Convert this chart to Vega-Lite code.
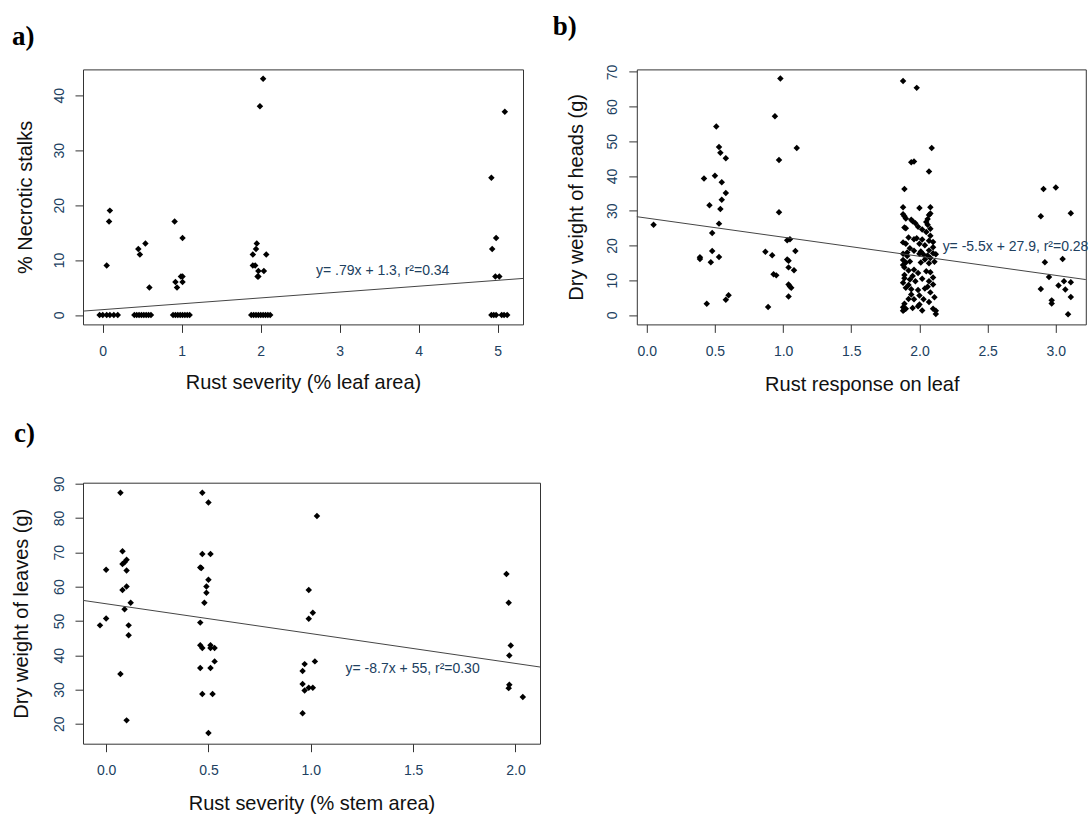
{
  "$schema": "https://vega.github.io/schema/vega-lite/v6.json",
  "autosize": {"type": "pad"},
  "padding": {"left": 10, "top": 12.4, "right": 0, "bottom": 0},
  "background": "white",
  "config": {
    "view": {"stroke": "#333", "strokeWidth": 1},
    "axis": {"grid": false, "domain": false, "tickColor": "#333", "tickSize": 8, "labelFont": "Liberation Sans", "labelFontSize": 14, "labelColor": "#204060", "labelPadding": 12, "labelFlush": false, "labelOverlap": false, "titleFont": "Liberation Sans", "titleFontSize": 20, "titleFontWeight": "normal", "titleColor": "#111"},
    "axisY": {"labelAngle": -90, "labelAlign": "center", "labelBaseline": "alphabetic", "titleAngle": -90, "titleAlign": "center", "titleBaseline": "middle"},
    "axisX": {"titleAlign": "center", "titleBaseline": "middle"},
    "title": {"font": "Liberation Serif", "fontSize": 27, "fontWeight": "bold", "color": "#000", "anchor": "start", "frame": "group", "baseline": "alphabetic"}
  },
  "datasets": {
    "a": [
      {"x": -0.04, "y": 0}, {"x": 0.0, "y": 0}, {"x": 0.05, "y": 0}, {"x": 0.09, "y": 0}, {"x": 0.14, "y": 0}, {"x": 0.19, "y": 0},
      {"x": 0.05, "y": 9}, {"x": 0.08, "y": 17}, {"x": 0.09, "y": 19},
      {"x": 0.40, "y": 0}, {"x": 0.43, "y": 0}, {"x": 0.46, "y": 0}, {"x": 0.49, "y": 0}, {"x": 0.52, "y": 0}, {"x": 0.55, "y": 0}, {"x": 0.58, "y": 0}, {"x": 0.61, "y": 0},
      {"x": 0.45, "y": 12}, {"x": 0.47, "y": 11}, {"x": 0.54, "y": 13}, {"x": 0.59, "y": 5},
      {"x": 0.89, "y": 0}, {"x": 0.92, "y": 0}, {"x": 0.95, "y": 0}, {"x": 0.98, "y": 0}, {"x": 1.01, "y": 0}, {"x": 1.04, "y": 0}, {"x": 1.07, "y": 0}, {"x": 1.10, "y": 0},
      {"x": 0.91, "y": 17}, {"x": 1.01, "y": 14}, {"x": 0.99, "y": 7}, {"x": 1.01, "y": 7}, {"x": 0.92, "y": 6}, {"x": 1.01, "y": 6}, {"x": 0.94, "y": 5},
      {"x": 1.88, "y": 0}, {"x": 1.91, "y": 0}, {"x": 1.94, "y": 0}, {"x": 1.97, "y": 0}, {"x": 2.00, "y": 0}, {"x": 2.03, "y": 0}, {"x": 2.06, "y": 0}, {"x": 2.09, "y": 0}, {"x": 2.12, "y": 0},
      {"x": 2.03, "y": 43}, {"x": 1.99, "y": 38}, {"x": 1.95, "y": 13}, {"x": 1.94, "y": 12}, {"x": 1.90, "y": 11}, {"x": 2.07, "y": 11}, {"x": 1.90, "y": 9}, {"x": 1.93, "y": 9}, {"x": 1.97, "y": 8}, {"x": 2.04, "y": 8}, {"x": 1.96, "y": 7}, {"x": 1.97, "y": 7},
      {"x": 4.92, "y": 0}, {"x": 4.95, "y": 0}, {"x": 4.98, "y": 0}, {"x": 5.05, "y": 0}, {"x": 5.08, "y": 0}, {"x": 5.12, "y": 0},
      {"x": 4.92, "y": 25}, {"x": 4.98, "y": 14}, {"x": 4.93, "y": 12}, {"x": 4.97, "y": 7}, {"x": 5.02, "y": 7}, {"x": 5.09, "y": 37}
    ],
    "a_fit": [{"x": -0.25, "y": 0.7}, {"x": 5.32, "y": 6.65}],
    "a_eq": [{"x": 2.70, "y": 8.0, "label": "y= .79x + 1.3, r²=0.34"}],
    "b": [
      {"x": 0.05, "y": 26.0},
      {"x": 0.51, "y": 54.3}, {"x": 0.53, "y": 48.4}, {"x": 0.54, "y": 46.7}, {"x": 0.58, "y": 45.1}, {"x": 0.42, "y": 39.3}, {"x": 0.50, "y": 40.1}, {"x": 0.55, "y": 38.2}, {"x": 0.58, "y": 35.1}, {"x": 0.46, "y": 31.6}, {"x": 0.55, "y": 33.2}, {"x": 0.54, "y": 30.5}, {"x": 0.53, "y": 26.3}, {"x": 0.48, "y": 23.6}, {"x": 0.48, "y": 18.4}, {"x": 0.39, "y": 16.6}, {"x": 0.39, "y": 16.1}, {"x": 0.53, "y": 16.7}, {"x": 0.47, "y": 15.2}, {"x": 0.60, "y": 5.7}, {"x": 0.58, "y": 4.4}, {"x": 0.44, "y": 3.2},
      {"x": 0.98, "y": 68.1}, {"x": 0.94, "y": 57.2}, {"x": 1.10, "y": 48.1}, {"x": 0.97, "y": 44.6}, {"x": 0.97, "y": 29.6}, {"x": 1.03, "y": 21.5}, {"x": 1.05, "y": 21.8}, {"x": 0.87, "y": 18.2}, {"x": 0.92, "y": 17.2}, {"x": 1.09, "y": 18.4}, {"x": 1.03, "y": 16.0}, {"x": 1.04, "y": 15.6}, {"x": 0.93, "y": 11.7}, {"x": 0.95, "y": 11.4}, {"x": 1.04, "y": 13.7}, {"x": 1.08, "y": 12.9}, {"x": 1.04, "y": 8.8}, {"x": 1.05, "y": 8.2}, {"x": 1.06, "y": 7.8}, {"x": 1.04, "y": 5.3}, {"x": 0.89, "y": 2.3},
      {"x": 1.88, "y": 67.4}, {"x": 1.98, "y": 65.4}, {"x": 2.09, "y": 48.1}, {"x": 1.94, "y": 44.0}, {"x": 1.96, "y": 44.2}, {"x": 2.07, "y": 41.3}, {"x": 1.89, "y": 36.3},
      {"x": 1.88, "y": 31.0}, {"x": 2.00, "y": 30.8}, {"x": 2.08, "y": 31.0},
      {"x": 1.88, "y": 29.0}, {"x": 1.89, "y": 28.4}, {"x": 1.90, "y": 27.8}, {"x": 2.07, "y": 28.8}, {"x": 2.08, "y": 29.2}, {"x": 2.06, "y": 27.6},
      {"x": 1.94, "y": 27.4}, {"x": 1.95, "y": 27.0}, {"x": 1.97, "y": 26.4}, {"x": 2.05, "y": 26.8}, {"x": 2.06, "y": 26.0},
      {"x": 1.89, "y": 25.2}, {"x": 1.90, "y": 25.0}, {"x": 1.99, "y": 25.4}, {"x": 2.02, "y": 24.6}, {"x": 2.05, "y": 23.9}, {"x": 2.08, "y": 24.8}, {"x": 2.08, "y": 22.8},
      {"x": 1.92, "y": 22.3}, {"x": 1.96, "y": 21.8}, {"x": 1.98, "y": 22.1}, {"x": 2.02, "y": 21.7}, {"x": 2.07, "y": 21.4}, {"x": 2.10, "y": 21.0},
      {"x": 1.88, "y": 20.9}, {"x": 1.90, "y": 20.5}, {"x": 2.00, "y": 20.5}, {"x": 2.04, "y": 20.1},
      {"x": 1.93, "y": 19.2}, {"x": 1.96, "y": 18.5}, {"x": 2.10, "y": 19.5}, {"x": 2.07, "y": 18.6}, {"x": 2.01, "y": 18.3}, {"x": 1.91, "y": 18.0},
      {"x": 1.88, "y": 17.6}, {"x": 1.91, "y": 17.0}, {"x": 2.00, "y": 17.6}, {"x": 2.03, "y": 17.4}, {"x": 2.06, "y": 17.1}, {"x": 2.10, "y": 17.8}, {"x": 2.12, "y": 17.5}, {"x": 2.08, "y": 16.4},
      {"x": 1.88, "y": 15.8}, {"x": 1.90, "y": 15.1}, {"x": 1.93, "y": 15.4}, {"x": 2.01, "y": 15.1}, {"x": 2.07, "y": 14.9}, {"x": 2.11, "y": 15.3}, {"x": 2.04, "y": 16.0},
      {"x": 1.88, "y": 14.4}, {"x": 1.89, "y": 13.7}, {"x": 1.92, "y": 12.8}, {"x": 1.96, "y": 13.0}, {"x": 1.99, "y": 12.1}, {"x": 2.05, "y": 12.6}, {"x": 2.08, "y": 12.3}, {"x": 2.10, "y": 10.8},
      {"x": 1.89, "y": 11.5}, {"x": 1.89, "y": 10.6}, {"x": 1.93, "y": 10.2}, {"x": 1.97, "y": 9.7}, {"x": 2.02, "y": 10.4}, {"x": 2.07, "y": 9.7}, {"x": 2.10, "y": 8.8}, {"x": 1.95, "y": 11.2},
      {"x": 1.88, "y": 9.3}, {"x": 1.90, "y": 7.8}, {"x": 1.94, "y": 7.4}, {"x": 1.99, "y": 7.2}, {"x": 2.04, "y": 7.6}, {"x": 2.08, "y": 6.5}, {"x": 2.00, "y": 5.6}, {"x": 1.92, "y": 8.6}, {"x": 2.06, "y": 8.1},
      {"x": 1.92, "y": 4.6}, {"x": 1.96, "y": 4.5}, {"x": 1.89, "y": 3.2}, {"x": 2.03, "y": 4.5}, {"x": 2.07, "y": 3.7}, {"x": 2.11, "y": 5.1}, {"x": 1.94, "y": 5.9},
      {"x": 1.88, "y": 2.2}, {"x": 1.90, "y": 1.8}, {"x": 1.95, "y": 2.0}, {"x": 1.99, "y": 2.5}, {"x": 2.02, "y": 1.3}, {"x": 2.10, "y": 1.8}, {"x": 2.12, "y": 0.3}, {"x": 1.88, "y": 1.2}, {"x": 1.89, "y": 1.6}, {"x": 2.00, "y": 3.0}, {"x": 2.12, "y": 1.2},
      {"x": 2.91, "y": 36.3}, {"x": 3.00, "y": 36.7}, {"x": 2.89, "y": 28.4}, {"x": 3.11, "y": 29.3}, {"x": 2.92, "y": 15.2}, {"x": 3.05, "y": 16.1}, {"x": 2.95, "y": 10.9}, {"x": 2.89, "y": 7.5}, {"x": 3.02, "y": 8.5}, {"x": 3.06, "y": 9.7}, {"x": 3.11, "y": 9.4}, {"x": 3.07, "y": 7.3}, {"x": 3.11, "y": 5.2}, {"x": 2.97, "y": 4.2}, {"x": 2.97, "y": 3.3}, {"x": 3.09, "y": 0.2}
    ],
    "b_fit": [{"x": -0.073, "y": 28.3}, {"x": 3.22, "y": 10.19}],
    "b_eq": [{"x": 2.17, "y": 19.6, "label": "y= -5.5x + 27.9, r²=0.28"}],
    "c": [
      {"x": -0.03, "y": 48.7}, {"x": 0.0, "y": 50.7}, {"x": 0.0, "y": 64.9}, {"x": 0.07, "y": 87.4}, {"x": 0.08, "y": 70.3}, {"x": 0.08, "y": 66.6}, {"x": 0.09, "y": 67.1}, {"x": 0.10, "y": 67.8}, {"x": 0.10, "y": 64.7}, {"x": 0.10, "y": 60.0}, {"x": 0.08, "y": 59.0}, {"x": 0.12, "y": 55.3}, {"x": 0.09, "y": 53.4}, {"x": 0.11, "y": 48.7}, {"x": 0.11, "y": 45.8}, {"x": 0.07, "y": 34.5}, {"x": 0.10, "y": 21.0},
      {"x": 0.47, "y": 87.4}, {"x": 0.50, "y": 84.5}, {"x": 0.47, "y": 69.5}, {"x": 0.51, "y": 69.5}, {"x": 0.46, "y": 65.6}, {"x": 0.465, "y": 65.4}, {"x": 0.50, "y": 62.0}, {"x": 0.49, "y": 60.0}, {"x": 0.49, "y": 58.2}, {"x": 0.48, "y": 55.3}, {"x": 0.46, "y": 49.5},
      {"x": 0.46, "y": 42.9}, {"x": 0.47, "y": 42.1}, {"x": 0.51, "y": 42.9}, {"x": 0.51, "y": 42.1}, {"x": 0.53, "y": 42.1}, {"x": 0.53, "y": 38.2}, {"x": 0.46, "y": 36.3}, {"x": 0.51, "y": 36.3}, {"x": 0.47, "y": 28.7}, {"x": 0.52, "y": 28.7}, {"x": 0.50, "y": 17.3},
      {"x": 1.03, "y": 80.6}, {"x": 0.99, "y": 59.0}, {"x": 1.01, "y": 52.4}, {"x": 0.99, "y": 50.6}, {"x": 0.96, "y": 35.4}, {"x": 0.97, "y": 37.4}, {"x": 1.02, "y": 38.2}, {"x": 0.96, "y": 31.6}, {"x": 0.97, "y": 29.7}, {"x": 0.99, "y": 30.5}, {"x": 1.01, "y": 30.5}, {"x": 0.96, "y": 23.1},
      {"x": 1.956, "y": 63.7}, {"x": 1.967, "y": 55.3}, {"x": 1.977, "y": 42.8}, {"x": 1.97, "y": 39.9}, {"x": 1.97, "y": 31.4}, {"x": 1.967, "y": 30.4}, {"x": 2.036, "y": 27.8}
    ],
    "c_fit": [{"x": -0.113, "y": 55.98}, {"x": 2.12, "y": 36.56}],
    "c_eq": [{"x": 1.17, "y": 36.1, "label": "y= -8.7x + 55, r²=0.30"}]
  },
  "columns": 2,
  "align": "each",
  "bounds": "flush",
  "spacing": {"row": 158.3, "column": 96.8},
  "concat": [
    {
      "width": 440, "height": 255,
      "title": {"text": "a)", "dx": -71, "offset": 18.7},
      "encoding": {
        "x": {"field": "x", "type": "quantitative", "scale": {"domain": [-0.25, 5.32], "nice": false, "zero": false}, "axis": {"values": [0, 1, 2, 3, 4, 5], "format": "d", "labelOverlap": false, "title": "Rust severity (% leaf area)", "titleX": 220, "titleY": 58}},
        "y": {"field": "y", "type": "quantitative", "scale": {"domain": [-1.72, 44.72], "nice": false, "zero": false}, "axis": {"values": [0, 10, 20, 30, 40], "format": "d", "labelOverlap": false, "title": "% Necrotic stalks", "titleX": -58, "titleY": 127.5}}
      },
      "layer": [
        {"data": {"name": "a"}, "mark": {"type": "point", "shape": "diamond", "filled": true, "color": "#000", "size": 42, "opacity": 1}},
        {"data": {"name": "a_fit"}, "mark": {"type": "line", "color": "#444", "strokeWidth": 1}},
        {"data": {"name": "a_eq"}, "mark": {"type": "text", "align": "left", "baseline": "middle", "fontSize": 14, "font": "Liberation Sans", "color": "#204060"}, "encoding": {"text": {"field": "label"}}}
      ]
    },
    {
      "width": 449, "height": 255,
      "title": {"text": "b)", "dx": -84, "offset": 23},
      "encoding": {
        "x": {"field": "x", "type": "quantitative", "scale": {"domain": [-0.073, 3.22], "nice": false, "zero": false}, "axis": {"values": [0, 0.5, 1, 1.5, 2, 2.5, 3], "format": ".1f", "labelOverlap": false, "title": "Rust response on leaf", "titleX": 225, "titleY": 60}},
        "y": {"field": "y", "type": "quantitative", "scale": {"domain": [-2.72, 70.72], "nice": false, "zero": false}, "axis": {"values": [0, 10, 20, 30, 40, 50, 60, 70], "format": "d", "labelOverlap": false, "title": "Dry weight of heads (g)", "titleX": -60.5, "titleY": 127.5}}
      },
      "layer": [
        {"data": {"name": "b"}, "mark": {"type": "point", "shape": "diamond", "filled": true, "color": "#000", "size": 42, "opacity": 1}},
        {"data": {"name": "b_fit"}, "mark": {"type": "line", "color": "#444", "strokeWidth": 1}},
        {"data": {"name": "b_eq"}, "mark": {"type": "text", "align": "left", "baseline": "middle", "fontSize": 14, "font": "Liberation Sans", "color": "#204060"}, "encoding": {"text": {"field": "label"}}}
      ]
    },
    {
      "width": 457, "height": 261,
      "title": {"text": "c)", "dx": -69, "offset": 27.5},
      "encoding": {
        "x": {"field": "x", "type": "quantitative", "scale": {"domain": [-0.113, 2.12], "nice": false, "zero": false}, "axis": {"values": [0, 0.5, 1, 1.5, 2], "format": ".1f", "labelOverlap": false, "title": "Rust severity (% stem area)", "titleX": 228.5, "titleY": 60}},
        "y": {"field": "y", "type": "quantitative", "scale": {"domain": [14.2, 90.3], "nice": false, "zero": false}, "axis": {"values": [20, 30, 40, 50, 60, 70, 80, 90], "format": "d", "labelOverlap": false, "title": "Dry weight of leaves (g)", "titleX": -62, "titleY": 130.5}}
      },
      "layer": [
        {"data": {"name": "c"}, "mark": {"type": "point", "shape": "diamond", "filled": true, "color": "#000", "size": 42, "opacity": 1}},
        {"data": {"name": "c_fit"}, "mark": {"type": "line", "color": "#444", "strokeWidth": 1}},
        {"data": {"name": "c_eq"}, "mark": {"type": "text", "align": "left", "baseline": "middle", "fontSize": 14, "font": "Liberation Sans", "color": "#204060"}, "encoding": {"text": {"field": "label"}}}
      ]
    }
  ]
}
